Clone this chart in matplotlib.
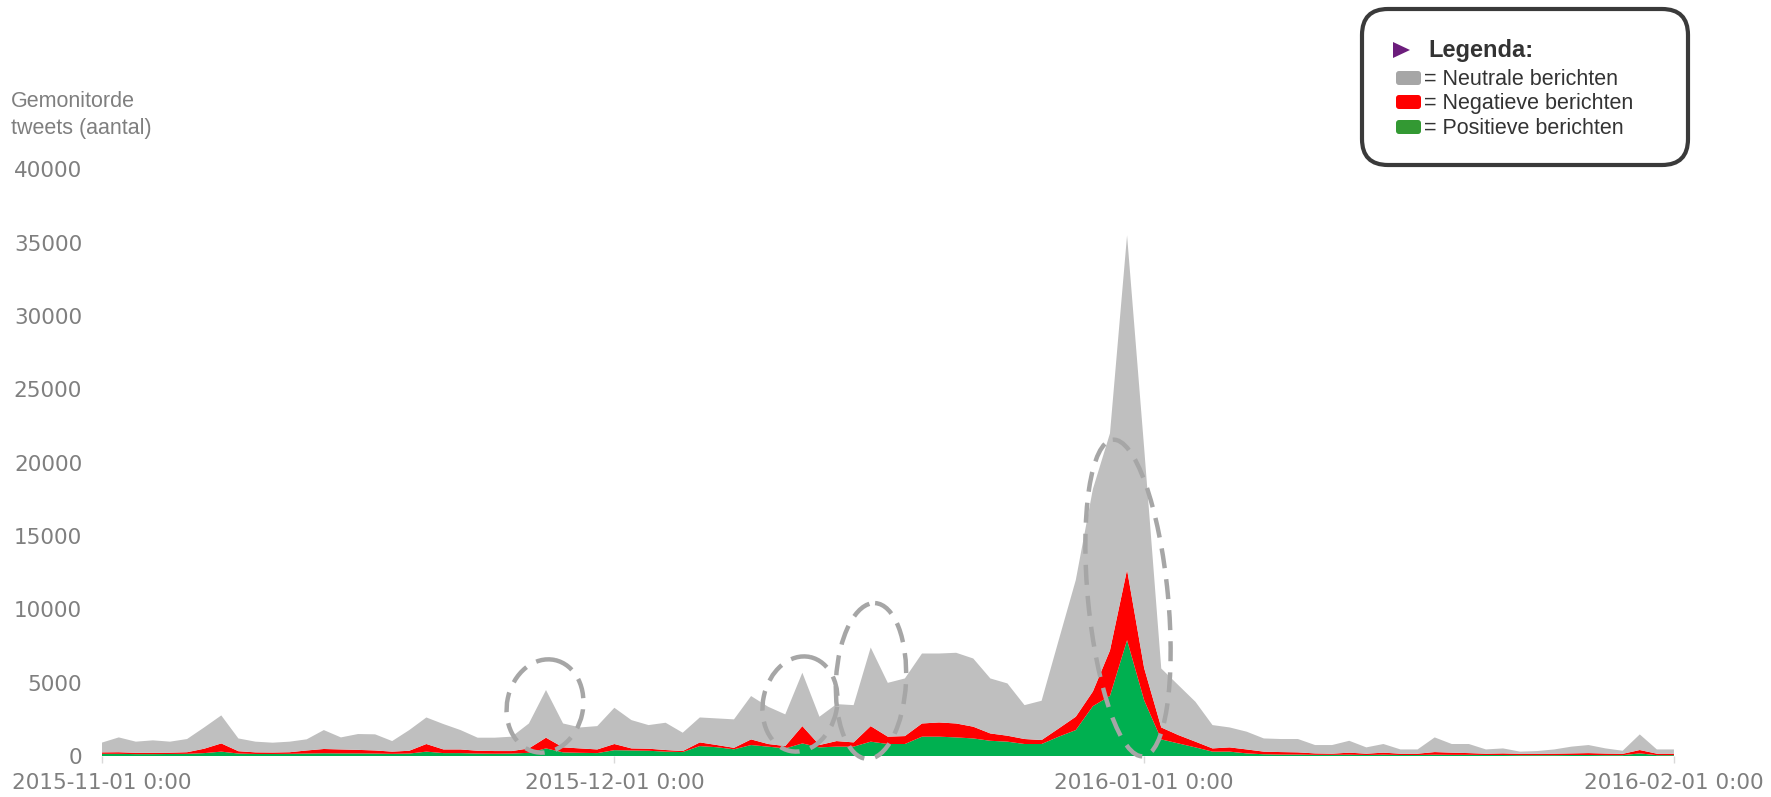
import matplotlib
matplotlib.use("Agg")
import matplotlib.pyplot as plt
from matplotlib.patches import Ellipse, FancyBboxPatch, Polygon
import pandas as pd

# Dagelijkse aantallen tweets, 1 nov 2015 t/m 1 feb 2016
dagen = pd.date_range("2015-11-01", periods=93, freq="D")

positief = [150, 150, 130, 130, 140, 150, 200, 300, 170, 140, 140, 150, 170, 190, 180, 180,
            170, 150, 170, 300, 200, 200, 170, 160, 170, 220, 520, 250, 220, 200, 400,
            380, 360, 300, 270, 680, 600, 460, 750, 640, 520, 860, 590, 640, 640, 980,
            820, 820, 1320, 1320, 1270, 1200, 1040, 980, 820, 820, 1320, 1770, 3400, 4100,
            7900, 3800, 1135, 860, 590, 300, 300, 180, 120, 100, 100, 80, 80, 90, 70, 90,
            70, 70, 90, 80, 80, 70, 70, 60, 60, 60, 70, 70, 60, 60, 180, 60, 60]
negatief = [100, 110, 90, 90, 90, 110, 300, 560, 160, 110, 100, 110, 210, 290, 270, 240,
            210, 150, 190, 520, 250, 250, 190, 180, 170, 300, 730, 340, 300, 250, 420,
            140, 140, 110, 70, 250, 150, 100, 385, 180, 160, 1180, 160, 380, 290, 1060,
            500, 540, 900, 970, 950, 800, 500, 405, 340, 270, 560, 910, 1000, 3100,
            4800, 2200, 815, 570, 390, 220, 290, 270, 180, 170, 150, 100, 80, 140, 90, 140,
            90, 90, 180, 150, 120, 90, 110, 90, 90, 100, 110, 130, 110, 90, 230, 100, 100]
neutraal = [660, 1010, 760, 850, 750, 900, 1450, 1910, 870, 730, 670, 720, 760, 1290, 820, 1080,
            1100, 720, 1410, 1810, 1730, 1320, 890, 910, 980, 1700, 3250, 1630, 1430, 1590, 2470,
            1930, 1610, 1860, 1250, 1700, 1815, 1940, 2955, 2540, 2160, 3640, 1930, 2520, 2540, 5360,
            3670, 3930, 4770, 4700, 4820, 4650, 3750, 3565, 2310, 2680, 6020, 9320, 13800, 14800,
            22800, 15000, 4020, 3405, 2720, 1590, 1360, 1210, 900, 890, 910, 570, 590, 810, 430, 590,
            290, 290, 1000, 590, 620, 290, 340, 150, 190, 290, 460, 550, 350, 210, 1065, 290, 290]

y_ticks = [0, 5000, 10000, 15000, 20000, 25000, 30000, 35000, 40000]
x_ticks = pd.to_datetime(["2015-11-01", "2015-12-01", "2016-01-01", "2016-02-01"])
x_labels = ["2015-11-01 0:00", "2015-12-01 0:00", "2016-01-01 0:00", "2016-02-01 0:00"]

fig = plt.figure(figsize=(17.71, 7.97), dpi=100)
ax = fig.add_axes([0.0574, 0.0514, 0.8878, 0.7361])

ax.stackplot(dagen, positief, negatief, neutraal,
             colors=["#00b050", "#ff0000", "#bfbfbf"], linewidth=0)

ax.set_xlim(dagen[0], dagen[-1])
ax.set_ylim(0, 40000)
ax.set_yticks(y_ticks)
ax.set_yticklabels([str(v) for v in y_ticks])
ax.set_xticks(x_ticks)
ax.set_xticklabels(x_labels)
for s in ax.spines.values():
    s.set_visible(False)
ax.tick_params(axis="y", length=0, pad=14, labelsize=15.5, labelcolor="#7f7f7f")
ax.tick_params(axis="x", length=5, width=1, color="#d9d9d9", pad=7,
               labelsize=15.5, labelcolor="#7f7f7f")

# overlay in pixels voor ellipsen en legenda
ov = fig.add_axes([0, 0, 1, 1])
ov.set_xlim(0, 1771)
ov.set_ylim(797, 0)
ov.axis("off")

ellipsen = [((545, 706), 76, 94, 12), ((800, 704), 74, 96, 12),
            ((871, 681), 70, 156, 3), ((1128, 598), 80, 318, -5.5)]
for centrum, b, h, hoek in ellipsen:
    ov.add_patch(Ellipse(centrum, b, h, angle=hoek, fill=False, edgecolor="#a6a6a6",
                         linewidth=3.2, linestyle=(0, (4.5, 2.5))))

ov.text(11, 115, "Gemonitorde\ntweets (aantal)", fontsize=15.5, color="#7f7f7f",
        family="Liberation Sans", va="center", ha="left", linespacing=1.4)

# legenda
ov.add_patch(FancyBboxPatch((1362, 9), 326, 156, boxstyle="round,pad=0,rounding_size=26",
                            facecolor="white", edgecolor="#3a3a3a", linewidth=3))
ov.add_patch(Polygon([(1393, 42), (1410, 50), (1393, 58)], closed=True,
                     facecolor="#6c1d7c", edgecolor="none"))
ov.text(1428, 50, "Legenda:", fontsize=17, fontweight="bold", color="#333333",
        family="Liberation Sans", va="center")
rijen = [("#a6a6a6", "= Neutrale berichten", 78),
         ("#ff0000", "= Negatieve berichten", 102),
         ("#339933", "= Positieve berichten", 127)]
for kleur, tekst, yy in rijen:
    ov.add_patch(FancyBboxPatch((1396, yy - 7), 25, 14, boxstyle="round,pad=0,rounding_size=3",
                                facecolor=kleur, edgecolor="none"))
    ov.text(1424, yy + 1, tekst, fontsize=15.5, color="#333333",
            family="Liberation Sans", va="center")

fig.savefig("out.png", dpi=100)
